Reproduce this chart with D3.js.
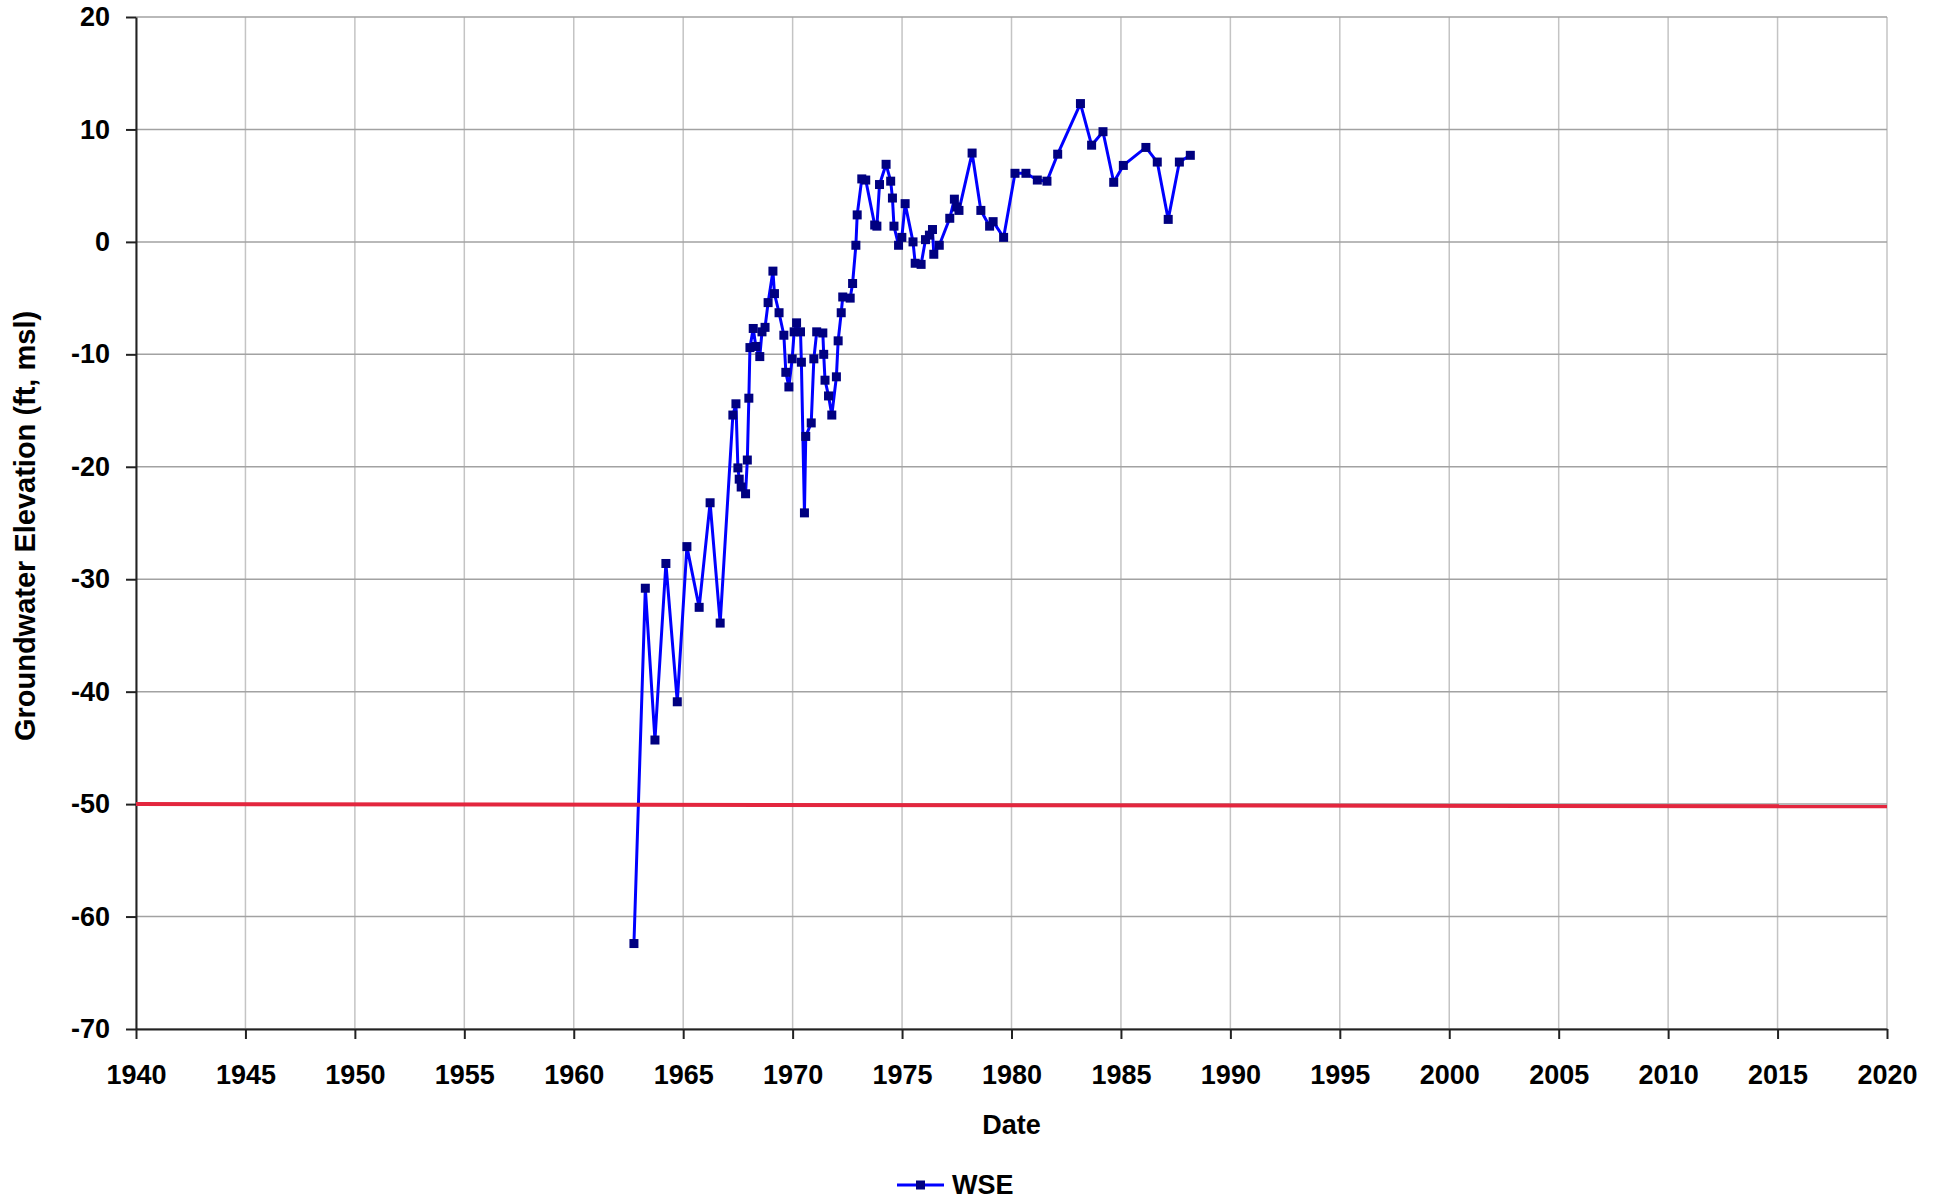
<!DOCTYPE html>
<html>
<head>
<meta charset="utf-8">
<script src="https://cdn.jsdelivr.net/npm/d3@7"></script>
<style>
  html, body { margin: 0; padding: 0; background: #fff; }
  svg { display: block; font-family: "Liberation Sans", Arial, sans-serif; }
</style>
</head>
<body>
<svg id="chart" width="1947" height="1200"></svg>
<script>
// Water surface elevation readings (decimal year, ft msl)
const wseDates = [
  1962.75, 1963.27, 1963.71, 1964.21, 1964.73, 1965.17, 1965.73, 1966.23, 1966.69,
  1967.27, 1967.41, 1967.50, 1967.56, 1967.65, 1967.85, 1967.93, 1968.00, 1968.05,
  1968.20, 1968.32, 1968.50, 1968.60, 1968.74, 1968.88, 1969.10, 1969.17, 1969.38,
  1969.60, 1969.69, 1969.83, 1969.98, 1970.07, 1970.18, 1970.36, 1970.40, 1970.54,
  1970.60, 1970.85, 1970.97, 1971.10, 1971.38, 1971.42, 1971.48, 1971.64, 1971.79,
  1972.00, 1972.08, 1972.22, 1972.29, 1972.63, 1972.74, 1972.89, 1972.95, 1973.16,
  1973.34, 1973.75, 1973.85, 1973.97, 1974.27, 1974.48, 1974.56, 1974.63, 1974.84,
  1974.99, 1975.14, 1975.50, 1975.60, 1975.87, 1976.07, 1976.25, 1976.39, 1976.45,
  1976.70, 1977.18, 1977.39, 1977.50, 1977.60, 1978.20, 1978.60, 1979.00, 1979.16,
  1979.64, 1980.16, 1980.66, 1981.18, 1981.62, 1982.11, 1983.15, 1983.66, 1984.18,
  1984.67, 1985.11, 1986.14, 1986.66, 1987.16, 1987.67, 1988.17
];
const wseValues = [
  -62.4, -30.8, -44.3, -28.6, -40.9, -27.1, -32.5, -23.2, -33.9,
  -15.4, -14.4, -20.1, -21.1, -21.8, -22.4, -19.4, -13.9, -9.4,
  -7.7, -9.3, -10.2, -8.0, -7.6, -5.4, -2.6, -4.6, -6.3,
  -8.3, -11.6, -12.9, -10.4, -8.0, -7.2, -8.0, -10.7, -24.1,
  -17.3, -16.1, -10.4, -8.0, -8.1, -10.0, -12.3, -13.7, -15.4,
  -12.0, -8.8, -6.3, -4.9, -5.0, -3.7, -0.3, 2.4, 5.6,
  5.5, 1.5, 1.4, 5.1, 6.9, 5.4, 3.9, 1.4, -0.3,
  0.4, 3.4, 0.0, -1.9, -2.0, 0.2, 0.6, 1.1, -1.1,
  -0.3, 2.1, 3.8, 3.1, 2.8, 7.9, 2.8, 1.4, 1.8,
  0.4, 6.1, 6.1, 5.5, 5.4, 7.8, 12.3, 8.6, 9.8,
  5.3, 6.8, 8.4, 7.1, 2.0, 7.1, 7.7
];

// Reference elevation line across the full period
const refDates = [1940, 2020];
const refValues = [-50, -50.2];

// Axis ticks
const xTicks = d3.range(1940, 2021, 5);
const yTicks = d3.range(-70, 21, 10);

const svg = d3.select("#chart");
const plotLeft = 136, plotRight = 1887, plotTop = 17, plotBottom = 1029;

const x = d3.scaleLinear().domain([1940, 2020]).range([plotLeft, plotRight]);
const y = d3.scaleLinear().domain([-70, 20]).range([plotBottom, plotTop]);

// Gridlines
svg.append("g").selectAll("line").data(xTicks).join("line")
  .attr("x1", d => x(d)).attr("x2", d => x(d))
  .attr("y1", plotTop).attr("y2", plotBottom)
  .attr("stroke", "#c4c4c4").attr("stroke-width", 1.5);
svg.append("g").selectAll("line").data(yTicks).join("line")
  .attr("x1", plotLeft).attr("x2", plotRight)
  .attr("y1", d => y(d)).attr("y2", d => y(d))
  .attr("stroke", "#a2a2a2").attr("stroke-width", 1.5);

// Axes (plain hyphen for negative labels)
const plain = d => String(d);
const xAxis = svg.append("g").attr("transform", `translate(0,${plotBottom})`)
  .call(d3.axisBottom(x).tickValues(xTicks).tickFormat(plain).tickSize(10).tickSizeOuter(0).tickPadding(26));
const yAxis = svg.append("g").attr("transform", `translate(${plotLeft},0)`)
  .call(d3.axisLeft(y).tickValues(yTicks).tickFormat(plain).tickSize(10).tickSizeOuter(0).tickPadding(16));

[xAxis, yAxis].forEach(g => {
  g.select(".domain").attr("stroke", "#222").attr("stroke-width", 2);
  g.selectAll(".tick line").attr("stroke", "#222").attr("stroke-width", 2);
  g.selectAll(".tick text")
    .attr("fill", "#000")
    .style("font-size", "27px")
    .style("font-weight", "bold")
    .style("font-family", "'Liberation Sans', Arial, sans-serif");
});

// Axis titles
svg.append("text")
  .attr("x", (plotLeft + plotRight) / 2).attr("y", 1134)
  .attr("text-anchor", "middle")
  .style("font-size", "27px").style("font-weight", "bold")
  .text("Date");
svg.append("text")
  .attr("transform", `translate(35,${526}) rotate(-90)`)
  .attr("text-anchor", "middle")
  .style("font-size", "29px").style("font-weight", "bold")
  .text("Groundwater Elevation (ft, msl)");

// WSE series
const wse = wseDates.map((d, i) => [d, wseValues[i]]);
const line = d3.line().x(d => x(d[0])).y(d => y(d[1]));

svg.append("path").datum(wse)
  .attr("d", line)
  .attr("fill", "none")
  .attr("stroke", "#0000ff")
  .attr("stroke-width", 3)
  .attr("stroke-linejoin", "round");

svg.append("g").selectAll("rect").data(wse).join("rect")
  .attr("x", d => x(d[0]) - 4.5).attr("y", d => y(d[1]) - 4.5)
  .attr("width", 9).attr("height", 9)
  .attr("fill", "#000080");

// Reference line
const ref = refDates.map((d, i) => [d, refValues[i]]);
svg.append("path").datum(ref)
  .attr("d", line)
  .attr("fill", "none")
  .attr("stroke", "#e3263e")
  .attr("stroke-width", 4);

// Legend
const lg = svg.append("g").attr("transform", "translate(897,1185)");
lg.append("line").attr("x1", 0).attr("x2", 47).attr("y1", 0).attr("y2", 0)
  .attr("stroke", "#0000ff").attr("stroke-width", 3);
lg.append("rect").attr("x", 19).attr("y", -4.5).attr("width", 9).attr("height", 9)
  .attr("fill", "#000080");
lg.append("text").attr("x", 55).attr("y", 9)
  .style("font-size", "27px").style("font-weight", "bold")
  .text("WSE");
</script>
</body>
</html>
